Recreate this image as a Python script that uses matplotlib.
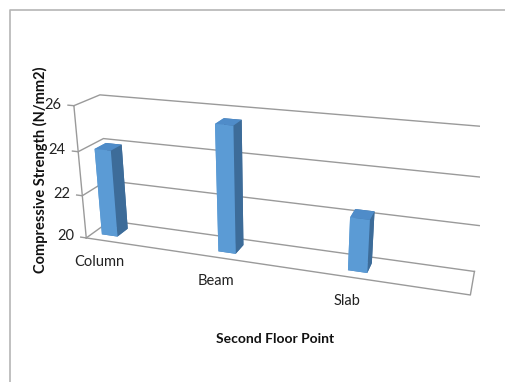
import numpy as np
import matplotlib
matplotlib.use("Agg")
import matplotlib.pyplot as plt
from matplotlib.lines import Line2D

# data
categories = ["Column", "Beam", "Slab"]
strength = [24.0, 25.6, 22.3]
z_ticks = [20, 22, 24, 26]

plt.rcParams['font.family'] = ['Lato', 'DejaVu Sans']

fig = plt.figure(figsize=(5.05, 3.82), dpi=100)

# square 3d axes, larger than the figure so the chart fills it
S = 430
L, T = 50, -22
ax = fig.add_axes([L / 505, (382 - (T + S)) / 382, S / 505, S / 382],
                  projection='3d', computed_zorder=False)
ax.set_proj_type('persp', focal_length=0.32)
ax.view_init(elev=20.2, azim=-71.5)
ax.set_box_aspect((1.743, 0.218, 0.632), zoom=0.98)
ax.set_axis_off()
ax.set_xticks([])
ax.set_yticks([])
ax.set_zticks([])

x0, x1 = -0.15, 2.79
y0, y1 = 0.0, 1.0
z0, z1 = z_ticks[0], z_ticks[-1]
ax.set_xlim(x0, x1)
ax.set_ylim(y0, y1)
ax.set_zlim(z0, z1)

grid_c = '#9a9a9a'

# gridlines across the left and back walls
for z in z_ticks:
    ax.plot([x0, x0, x1], [y0, y1, y1], [z, z, z], color=grid_c, lw=1.0, zorder=1)

# floor outline
ax.plot([x0, x1, x1], [y0, y0, y1], [z0, z0, z0], color=grid_c, lw=1.0, zorder=1)

# value axis on the front-left edge
ax.plot([x0, x0], [y0, y0], [z0, z1], color=grid_c, lw=1.0, zorder=1)
for z in z_ticks:
    ax.plot([x0 - 0.05, x0], [y0, y0], [z, z], color=grid_c, lw=1.0, zorder=1)
    ax.text(x0 - 0.11, y0, z, str(z), ha='right', va='center', fontsize=10.5, color='#222222')

# bars, one colour per face: bottom, top, front, back, left, right
bw, bd = 0.14, 0.45
xs = np.arange(len(categories)) - bw / 2
ys = np.full(len(categories), (y1 - bd) / 2)
zs = np.full(len(categories), z0)
heights = np.array(strength) - z0
face = ['#4a7fb5', '#4f8cc9', '#5b9bd5', '#3f6f9f', '#5b9bd5', '#3d6c99']
ax.bar3d(xs, ys, zs, bw, bd, heights, color=face * len(categories), shade=False, zorder=2)

# category labels under the floor
for i, name in enumerate(categories):
    ax.text(i - 0.05, y0, z0 - 1.1, name, ha='center', va='center', fontsize=10.5, color='#222222')

fig.text(0.08, 0.555, 'Compressive Strength (N/mm2)', rotation=90, ha='center', va='center',
         fontsize=10.5, fontweight='bold', color='#111111')
fig.text(0.545, 0.112, 'Second Floor Point', ha='center', va='center',
         fontsize=10, fontweight='bold', color='#111111')

# chart area border (top and left edges)
fig.add_artist(Line2D([10 / 505, 10 / 505, 1.0], [0.0, 1 - 10 / 382, 1 - 10 / 382],
                      transform=fig.transFigure, color='#b5b5b5', lw=1.2))

fig.savefig('out.png', dpi=100)
